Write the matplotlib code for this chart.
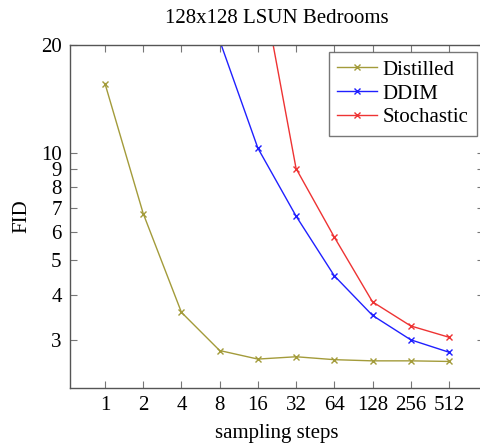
import numpy as np
import matplotlib
matplotlib.use("Agg")
import matplotlib.pyplot as plt
from matplotlib.ticker import FixedLocator, NullLocator, FixedFormatter

plt.rcParams['font.family'] = ['Liberation Serif', 'DejaVu Serif']

# data
steps = [1, 2, 4, 8, 16, 32, 64, 128, 256, 512]
distilled = [15.6, 6.76, 3.58, 2.80, 2.65, 2.69, 2.64, 2.62, 2.62, 2.61]
ddim_steps = [8, 16, 32, 64, 128, 256, 512]
ddim = [20.6, 10.3, 6.65, 4.53, 3.51, 3.00, 2.77]
stoch_steps = [16, 32, 64, 128, 256, 512]
stochastic = [34.0, 9.03, 5.81, 3.83, 3.28, 3.05]

y_ticks = [3, 4, 5, 6, 7, 8, 9, 10, 20]

fig = plt.figure(figsize=(4.81, 4.47), dpi=100)
ax = fig.add_axes([70/481, 59/447, 414/481, 343/447])

ax.plot(steps, distilled, color='#a39b3a', marker='x', ms=5, lw=1.0, mew=1.0, label='Distilled')
ax.plot(ddim_steps, ddim, color='#2020ff', marker='x', ms=5, lw=1.0, mew=1.0, label='DDIM')
ax.plot(stoch_steps, stochastic, color='#ee3333', marker='x', ms=5, lw=1.0, mew=1.0, label='Stochastic')

ax.set_xscale('log', base=2)
ax.set_yscale('log')
ax.set_xlim(0.53, 967)
ax.set_ylim(2.2, 20)

ax.xaxis.set_major_locator(FixedLocator(steps))
ax.xaxis.set_major_formatter(FixedFormatter([str(s) for s in steps]))
ax.xaxis.set_minor_locator(NullLocator())
ax.yaxis.set_major_locator(FixedLocator(y_ticks))
ax.yaxis.set_major_formatter(FixedFormatter([str(t) for t in y_ticks]))
ax.yaxis.set_minor_locator(NullLocator())

ax.tick_params(which='both', direction='in', top=True, right=True, length=5,
               width=0.8, color='#777777', labelsize=15, pad=6)
for s in ax.spines.values():
    s.set_color('#555555')
    s.set_linewidth(1.0)

ax.set_title('128x128 LSUN Bedrooms', fontsize=15, pad=16)
ax.set_xlabel('sampling steps', fontsize=15, labelpad=6)
ax.set_ylabel('FID', fontsize=15, labelpad=7)

leg = ax.legend(loc='upper right', fontsize=15, frameon=True, fancybox=False,
                edgecolor='#555555', handlelength=1.9, handletextpad=0.3,
                borderpad=0.4, labelspacing=0.2, markerscale=0.8,
                borderaxespad=0, bbox_to_anchor=(0.983, 0.98))
leg.get_frame().set_linewidth(1.0)

fig.savefig('out.png', dpi=100)
